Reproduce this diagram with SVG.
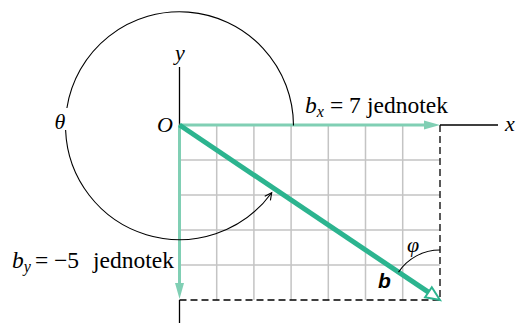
<svg xmlns="http://www.w3.org/2000/svg" width="516" height="323" viewBox="0 0 516 323">
<style>
.grid{stroke:#c4c4c4;stroke-width:1.5;fill:none}
.ax{stroke:#000;stroke-width:1.3;fill:none}
.dash{stroke:#000;stroke-width:1.3;fill:none;stroke-dasharray:7 4}
.comp{stroke:#80cfb4;stroke-width:3;fill:none}
.vec{stroke:#2cb48f;stroke-width:5;fill:none}
.arc{stroke:#000;stroke-width:1.1;fill:none}
text,tspan{font-family:'Liberation Serif','Times New Roman',serif}
.t{font-size:22px;fill:#000}
.lbl{font-size:23.5px}
.i{font-style:italic}
</style>
<defs>
<marker id="openArrow" markerWidth="10" markerHeight="10" refX="8" refY="5" orient="auto" markerUnits="userSpaceOnUse">
<path d="M1,1.5 L8,5 L1,8.5" fill="none" stroke="#000" stroke-width="1.1"/>
</marker>
</defs>
<g id="grid">
<path class="grid" d="M216.7,125V300M253.9,125V300M291.1,125V300M328.3,125V300M365.5,125V300M402.7,125V300M179.5,160H440M179.5,195H440M179.5,230H440M179.5,265H440"/>
</g>
<g id="axes">
<path class="ax" d="M179.5,67V125M179.5,300V323M440,125H498"/>
<path class="dash" d="M440,125V300M179.5,300H440"/>
<text class="t i" x="180" y="60" text-anchor="middle">y</text>
<text class="t i" x="505" y="131">x</text>
<text class="t i" x="157" y="132" font-size="20">O</text>
</g>
<g id="connectors">
<g id="bx">
<path class="comp" d="M179.5,125H426"/>
<path d="M424,120.5L440,125L424,129.5Z" fill="#80cfb4"/>
</g>
<g id="by">
<path class="comp" d="M179.5,125V285"/>
<path d="M175,283L179.5,299L184,283Z" fill="#80cfb4"/>
</g>
<g id="b">
<path class="vec" d="M179.5,125L428.4,292.2"/>
<path d="M440,300L425.1,297.2L431.8,287.2Z" fill="#fff" stroke="#2cb48f" stroke-width="2" stroke-linejoin="miter"/>
</g>
<g id="theta-arc">
<path class="arc" d="M293.5,125.5A114,114 0 0 0 66.9,108"/>
<path class="arc" d="M65.6,130A114,114 0 0 0 271.7,192.7" marker-end="url(#openArrow)"/>
</g>
<g id="phi-arc">
<path class="arc" d="M440,250A50,50 0 0 0 398.5,272.1"/>
</g>
</g>
<g id="labels">
<text class="t lbl" x="305" y="113"><tspan class="i">b</tspan><tspan class="i" font-size="16" dy="4">x</tspan><tspan x="330" dy="-4">=</tspan><tspan x="349">7</tspan><tspan x="367">jednotek</tspan></text>
<text class="t lbl" x="12" y="268"><tspan class="i">b</tspan><tspan class="i" font-size="16" dy="4">y</tspan><tspan x="35" dy="-4">=</tspan><tspan x="54">−5</tspan><tspan x="93">jednotek</tspan></text>
<text class="t i" x="60" y="129" text-anchor="middle" font-size="20">θ</text>
<text class="t i" x="413" y="252" text-anchor="middle" font-size="20">φ</text>
<text x="378" y="287.5" style="font-family:'Liberation Sans',Arial,sans-serif" font-weight="bold" font-style="italic" font-size="21">b</text>
</g>
</svg>
